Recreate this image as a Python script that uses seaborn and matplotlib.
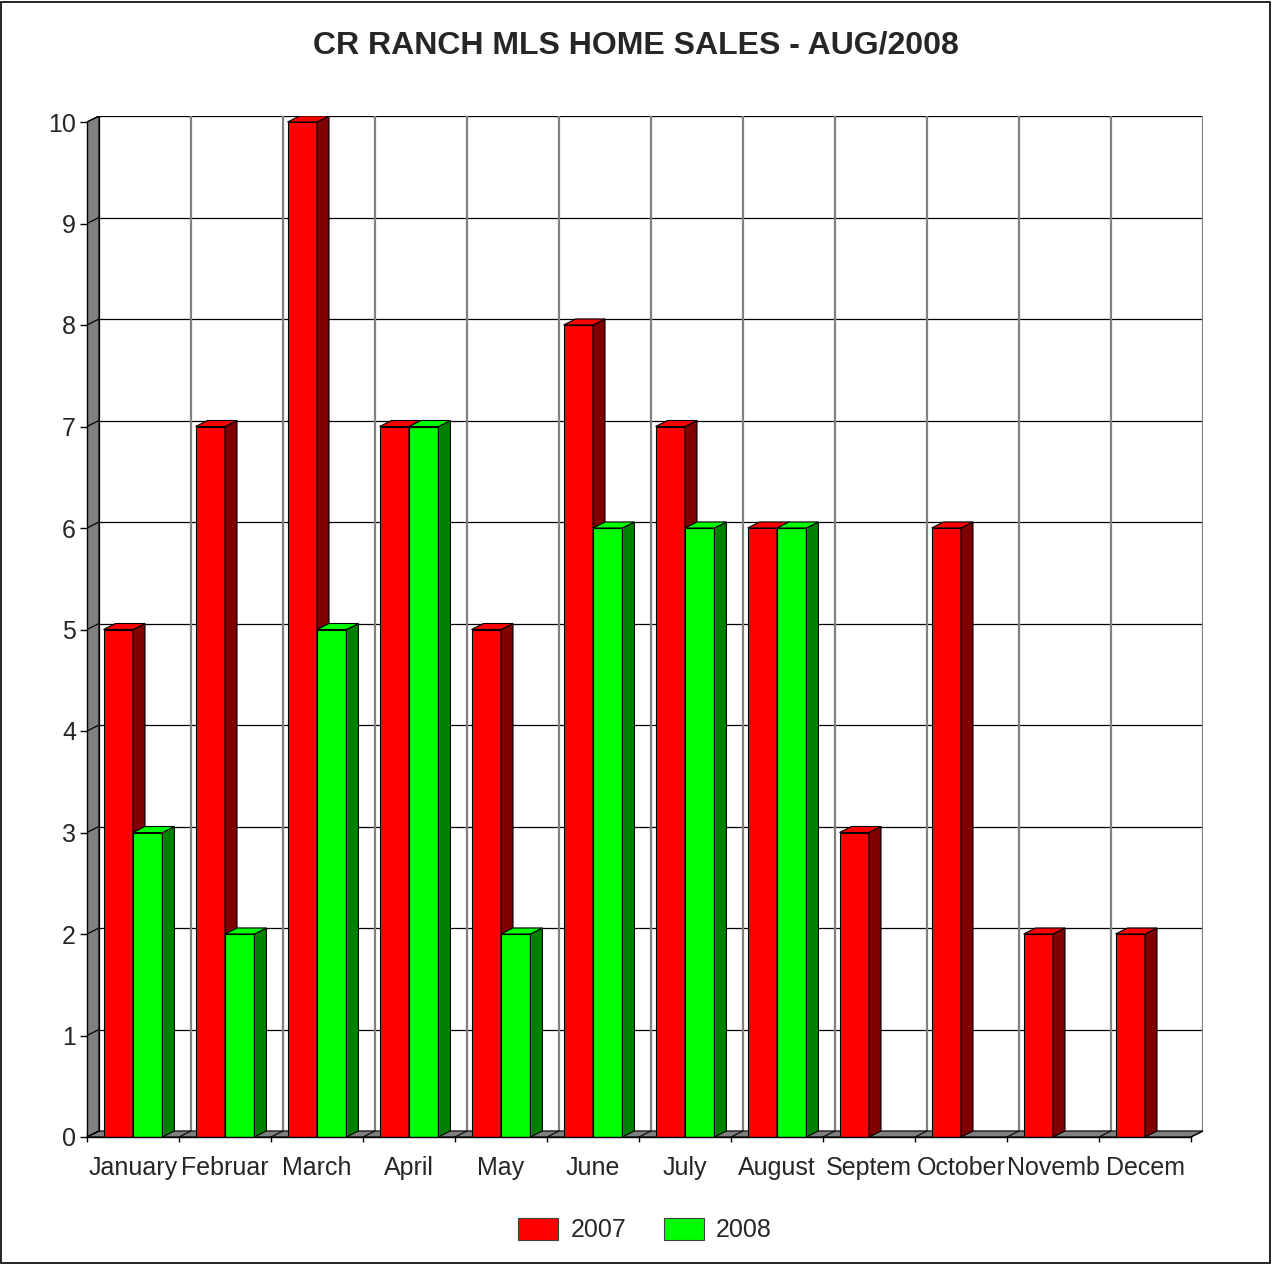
import numpy as np
import pandas as pd
import matplotlib
matplotlib.use("Agg")
import matplotlib.pyplot as plt
from matplotlib.patches import Polygon, Rectangle, Patch
import seaborn as sns

# ---- data ----
months = ["January", "Februar", "March", "April", "May", "June",
          "July", "August", "Septem", "October", "Novemb", "Decem"]
sales_2007 = [5, 7, 10, 7, 5, 8, 7, 6, 3, 6, 2, 2]
sales_2008 = [3, 2, 5, 7, 2, 6, 6, 6, None, None, None, None]
years = ["2007", "2008"]
y_ticks = list(range(0, 11))
title = "CR RANCH MLS HOME SALES - AUG/2008"

front_colors = {"2007": "#FF0000", "2008": "#00FF00"}
side_colors = {"2007": "#800000", "2008": "#008000"}

rows = []
for m, a, b in zip(months, sales_2007, sales_2008):
    rows.append({"month": m, "year": "2007", "sales": a})
    if b is not None:
        rows.append({"month": m, "year": "2008", "sales": b})
df = pd.DataFrame(rows)

sns.set_style("white")
plt.rcParams["font.family"] = ["Liberation Sans", "DejaVu Sans"]

W, H = 1272, 1264
fig = plt.figure(figsize=(W / 100, H / 100), dpi=100)
ax = fig.add_axes([87 / W, (H - 1137) / H, (1203 - 87) / W, (1137 - 116) / H])

ymax = 10
dx = 12 / 92.0
dy = 6 / 101.5
n = len(months)

sns.barplot(data=df, x="month", y="sales", hue="year", order=months,
            hue_order=years, palette=front_colors, width=0.64, saturation=1,
            errorbar=None, edgecolor="black", linewidth=0.8,
            legend=False, ax=ax, zorder=3)

ax.set_xlim(-0.5, n - 0.5 + dx)
ax.set_ylim(0, ymax + dy)

# walls
left_wall = Polygon([(-0.5, 0), (-0.5 + dx, dy), (-0.5 + dx, ymax + dy), (-0.5, ymax)],
                    closed=True, facecolor="#808080", edgecolor="black", lw=0.8, zorder=1.5)
ax.add_patch(left_wall)
floor = Polygon([(-0.5, 0), (n - 0.5, 0), (n - 0.5 + dx, dy), (-0.5 + dx, dy)],
                closed=True, facecolor="#808080", edgecolor="black", lw=0.8, zorder=1.5)
ax.add_patch(floor)

# back wall gridlines
for v in y_ticks:
    ax.plot([-0.5 + dx, n - 0.5 + dx], [v + dy, v + dy], color="black", lw=0.9, zorder=1)
    ax.plot([-0.5, -0.5 + dx], [v, v + dy], color="black", lw=0.9, zorder=1.6)
for b in np.arange(-0.5, n, 1.0):
    if -0.5 < b:
        ax.plot([b + dx, b + dx], [dy, ymax + dy], color="#808080", lw=1.6, zorder=1)
    ax.plot([b, b + dx], [0, dy], color="black", lw=0.8, zorder=1.6)
ax.plot([-0.5 + dx, -0.5 + dx], [dy, ymax + dy], color="black", lw=0.9, zorder=1.6)

# 3D faces of bars
bars = [p for p in ax.patches if isinstance(p, Rectangle) and p.get_height() > 0
        and p.get_width() > 0 and p not in (left_wall, floor)]
bars.sort(key=lambda p: p.get_x())
for k, p in enumerate(bars):
    x0, w, h = p.get_x(), p.get_width(), p.get_height()
    fc = p.get_facecolor()
    key = "2007" if fc[1] < 0.5 else "2008"
    z = 3 + 0.01 * k
    p.set_zorder(z)
    side = Polygon([(x0 + w, 0), (x0 + w + dx, dy), (x0 + w + dx, h + dy), (x0 + w, h)],
                   closed=True, facecolor=side_colors[key], edgecolor="black", lw=0.8, zorder=z)
    top = Polygon([(x0, h), (x0 + w, h), (x0 + w + dx, h + dy), (x0 + dx, h + dy)],
                  closed=True, facecolor=front_colors[key], edgecolor="black", lw=0.8, zorder=z)
    ax.add_patch(side)
    ax.add_patch(top)

# axes / spines
for s in ["top", "right"]:
    ax.spines[s].set_visible(False)
ax.spines["left"].set_bounds(0, ymax)
ax.spines["bottom"].set_bounds(-0.5, n - 0.5)
for s in ["left", "bottom"]:
    ax.spines[s].set_color("black")
    ax.spines[s].set_linewidth(1.0)
    ax.spines[s].set_zorder(5)

ax.set_yticks(y_ticks)
ax.set_yticklabels([str(v) for v in y_ticks], fontsize=18)
ax.tick_params(axis="y", length=5, width=1, color="black", direction="out", pad=3, left=True)
ax.set_xticks(np.arange(-0.5, n, 1.0))
ax.set_xticklabels([])
ax.tick_params(axis="x", which="major", length=7, width=1, color="black", direction="inout", bottom=True)
ax.set_xticks(np.arange(n), minor=True)
ax.set_xticklabels(months, minor=True, fontsize=18)
ax.tick_params(axis="x", which="minor", length=0, pad=14)
ax.set_xlabel("")
ax.set_ylabel("")
ax.grid(False)
ax.set_facecolor("white")

fig.text(0.5, 1 - 45 / H, title, ha="center", va="center", fontsize=23, fontweight="bold")

handles = [Patch(facecolor=front_colors[y], edgecolor="#404040", lw=0.8, label=y) for y in years]
fig.legend(handles=handles, loc="center", bbox_to_anchor=(645 / W, 1 - 1230 / H), ncol=2,
           frameon=False, fontsize=18, handlelength=1.6, handleheight=1.0,
           handletextpad=0.5, columnspacing=1.5)

fig.add_artist(Rectangle((1 / W, 1 / H), (W - 3) / W, (H - 3) / H, transform=fig.transFigure,
                         fill=False, edgecolor="black", lw=1.2))

fig.savefig("out.png", dpi=100, facecolor="white")
